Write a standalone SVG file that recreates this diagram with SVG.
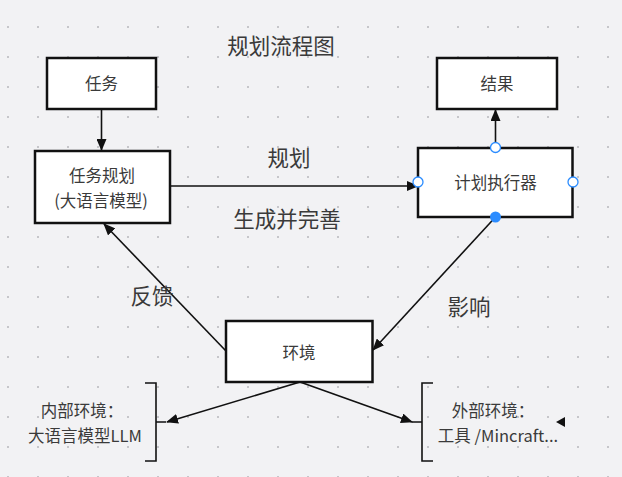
<svg xmlns="http://www.w3.org/2000/svg" width="622" height="477" viewBox="0 0 622 477">
<defs>
<pattern id="dots" x="0" y="0" width="30" height="30" patternUnits="userSpaceOnUse" patternTransform="translate(7,26)">
<rect x="0" y="0" width="2" height="2" fill="#c6c6ca"/>
</pattern>
<marker id="ah" markerWidth="12" markerHeight="10" refX="11" refY="5" orient="auto" markerUnits="userSpaceOnUse">
<path d="M0,0 L12,5 L0,10 Z" fill="#111"/>
</marker>
<style>
.box{fill:#fff;stroke:#111;stroke-width:2.5}
.t{font-family:"Noto Sans CJK SC","Noto Sans",sans-serif;fill:#3a3a3a;text-anchor:middle;dominant-baseline:central}
.s{font-size:16.5px}
.l{font-size:21.5px}
.c{stroke:#111;stroke-width:1.6;fill:none}
.a{marker-end:url(#ah)}
.h{fill:#fff;stroke:#2b8cff;stroke-width:1.3}
</style>
</defs>
<rect width="622" height="477" fill="#f2f2f4"/>
<rect width="622" height="477" fill="url(#dots)"/>
<text class="t l" x="281" y="44">规划流程图</text>
<g id="connectors">
<line class="c a" x1="101.5" y1="109" x2="101.5" y2="150"/>
<line class="c a" x1="495.5" y1="147" x2="495.5" y2="110"/>
<line class="c a" x1="170" y1="186" x2="418" y2="186"/>
<line class="c a" x1="226" y1="351" x2="104" y2="224"/>
<line class="c a" x1="495.5" y1="217" x2="373" y2="350"/>
<line class="c a" x1="300" y1="382" x2="167" y2="422"/>
<line class="c a" x1="300" y1="382" x2="412" y2="422"/>
<text class="t l" x="289" y="156">规划</text>
<text class="t l" x="287" y="217">生成并完善</text>
<text class="t l" x="152" y="294">反馈</text>
<text class="t l" x="469" y="305">影响</text>
</g>
<g id="task">
<rect class="box" x="47" y="58" width="109" height="51"/>
<text class="t s" x="101.5" y="83">任务</text>
</g>
<g id="result">
<rect class="box" x="437" y="58" width="120" height="51"/>
<text class="t s" x="497" y="83">结果</text>
</g>
<g id="planner">
<rect class="box" x="35" y="151" width="135" height="72"/>
<text class="t s" x="102" y="175">任务规划</text>
<text class="t s" x="101" y="200">(大语言模型)</text>
</g>
<g id="executor">
<rect class="box" x="418" y="148" width="154.5" height="69"/>
<text class="t s" x="495.5" y="182">计划执行器</text>
<circle class="h" cx="495.5" cy="147.5" r="5"/>
<circle class="h" cx="418" cy="182" r="5"/>
<circle class="h" cx="573" cy="182" r="5"/>
<circle cx="495.5" cy="217" r="5.5" fill="#2b8cff"/>
</g>
<g id="environment">
<rect class="box" x="226" y="321" width="146.5" height="61"/>
<text class="t s" x="299" y="352">环境</text>
</g>
<g id="internal">
<path class="c" d="M145,383 H156 V461 H145 M156,422 H166" stroke-width="2"/>
<text class="t s" x="82" y="410">内部环境：</text>
<text class="t s" x="85" y="435">大语言模型LLM</text>
</g>
<g id="external">
<path class="c" d="M433,383 H422 V461 H433 M422,422 H412" stroke-width="2"/>
<text class="t s" x="493" y="410">外部环境：</text>
<text class="t s" x="498" y="435">工具 /Mincraft...</text>
<path d="M556,422 L565,417 L565,427 Z" fill="#111"/>
</g>
</svg>
